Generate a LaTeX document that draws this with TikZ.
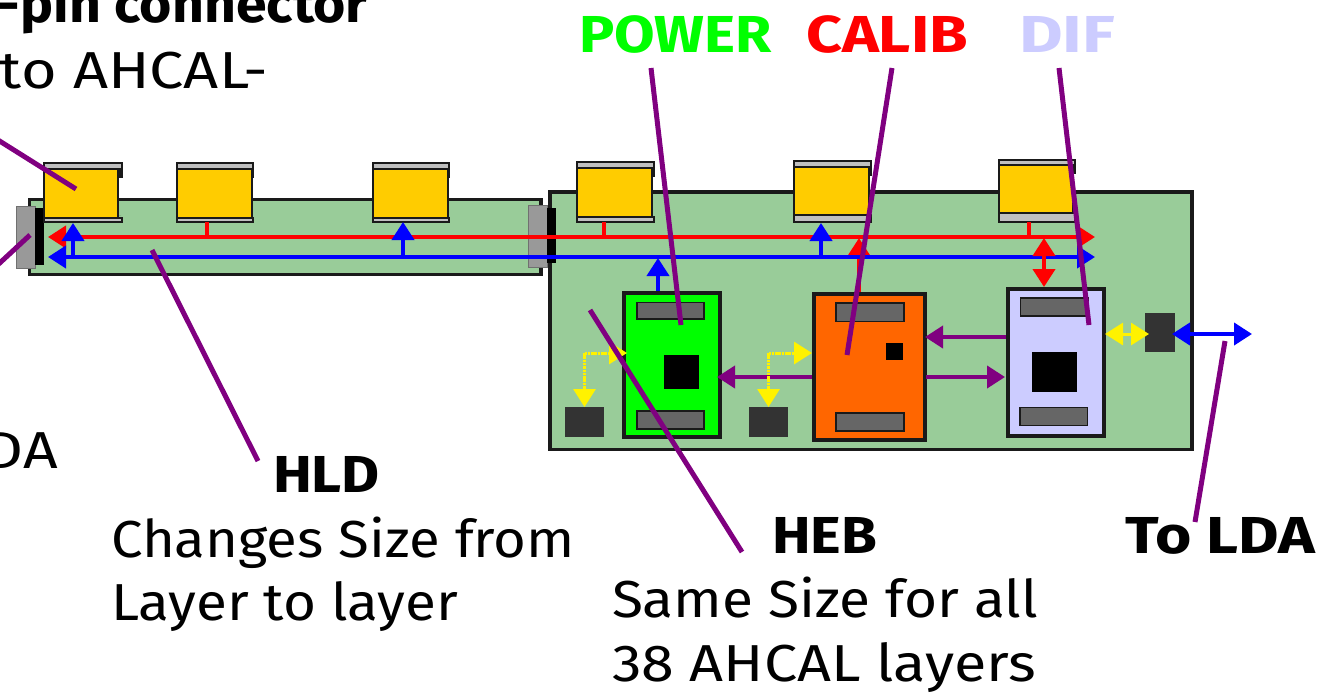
\documentclass[tikz,border=0pt]{standalone}
\usepackage{graphicx}
\usepackage{fontspec}
\setmainfont{Fira Sans}
\usetikzlibrary{arrows.meta}
\definecolor{board}{HTML}{99CC99}
\definecolor{edge}{HTML}{1A1A1A}
\definecolor{amber}{HTML}{FFCC00}
\definecolor{strip}{HTML}{C0C0C0}
\definecolor{endc}{HTML}{999999}
\definecolor{slot}{HTML}{666666}
\definecolor{dark}{HTML}{333333}
\definecolor{lime}{HTML}{00FF00}
\definecolor{orng}{HTML}{FF6600}
\definecolor{lav}{HTML}{CCCCFF}
\definecolor{purp}{HTML}{800080}
\tikzset{
  rectbox/.style={rectangle,inner sep=0pt,outer sep=0pt},
  boardbox/.style={rectbox,draw=edge,line width=3.5pt,fill=board},
  modbox/.style={rectbox,draw=edge,line width=4pt},
  slotbox/.style={rectbox,draw=edge,line width=1.5pt,fill=slot},
  chipbox/.style={rectbox,fill=black},
  darkbox/.style={rectbox,fill=dark},
  amberbox/.style={rectbox,draw=edge,line width=1.5pt,fill=amber},
  stripbox/.style={rectbox,draw=edge,line width=1.5pt,fill=strip},
  stubbox/.style={rectbox,fill=edge},
  redline/.style={draw=red,line width=4pt},
  blueline/.style={draw=blue,line width=4pt},
  purpline/.style={draw=purp,line width=4pt},
  yelline/.style={draw=yellow,line width=3pt,dash pattern=on 2.5pt off 0.8pt},
  callout/.style={draw=purp,line width=5pt},
  lbl/.style={anchor=base west,inner sep=0pt,outer sep=0pt,font=\fontsize{52}{52}\selectfont},
  blbl/.style={lbl,font=\fontsize{52}{52}\selectfont\bfseries},
  tip/.style={-{Triangle[length=18pt,width=22pt]}},
  tips/.style={{Triangle[length=18pt,width=22pt]}-{Triangle[length=18pt,width=22pt]}},
  ytip/.style={-{Triangle[length=18pt,width=22pt,fill=yellow]}},
}
\newcommand{\bx}[6]{\node[#6,minimum width={(#4-#2)*1pt},minimum height={(#5-#3)*1pt}] (#1) at ({(#2+#4)/2},{(#3+#5)/2}) {};}
\newcommand{\conn}[8]{%
  \bx{#1ts}{#2+1}{#5}{#4}{#6+9}{stubbox}
  \bx{#1bs}{#2-1}{#7-9}{#4}{#8}{stubbox}
  \bx{#1t}{#2+1}{#5}{#4-1}{#6}{stripbox}
  \bx{#1b}{#2+1}{#7}{#4-1}{#8}{stripbox}
  \bx{#1}{#2}{#6}{#3}{#7}{amberbox}
}
\newcommand{\wtext}[5]{\node[#1] (#2) at #3 {\resizebox{#4pt}{\height}{#5}};}
\begin{document}
\begin{tikzpicture}[x=1pt,y=-1pt]
\useasboundingbox (0,0) rectangle (1326,694);
\clip (0,0) rectangle (1326,694);
\fill[white] (0,0) rectangle (1326,694);
% boards
\bx{hld}{29.5}{199.5}{541}{274.5}{boardbox}
\bx{heb}{550}{192}{1192}{449.5}{boardbox}
% end connectors
\bx{endla}{16}{206}{35}{268}{rectbox,draw=dark!70,line width=.8pt,fill=endc}
\bx{endlb}{35}{208}{44}{265}{chipbox}
\bx{endra}{528}{205}{547}{267}{rectbox,draw=dark!70,line width=.8pt,fill=endc}
\bx{endrb}{547}{208}{556}{263}{chipbox}
% board connectors
\conn{ca}{44}{118}{122}{163}{169}{218}{222}
\conn{cb}{177}{252}{253}{163}{169}{218}{222}
\conn{cc}{373}{448}{449}{163}{169}{218}{222}
\conn{cd}{577}{652}{654}{162}{168}{217}{222}
\conn{ce}{794}{869}{871}{161}{167}{215}{222}
\conn{cf}{999}{1073}{1075}{160}{165}{213}{222}
% modules
\bx{pow}{624}{293}{719.5}{437}{modbox,fill=lime}
\bx{powa}{637}{302.5}{704}{319}{slotbox}
\bx{powb}{637}{411}{704}{429}{slotbox}
\bx{powc}{664}{355}{699}{389}{chipbox}
\bx{cal}{814}{294}{924.5}{440}{modbox,fill=orng}
\bx{cala}{836}{303}{904}{321.5}{slotbox}
\bx{calb}{836}{413}{904}{431}{slotbox}
\bx{calc}{886}{343}{903}{360}{chipbox}
\bx{dif}{1008}{289}{1103.5}{435.5}{modbox,fill=lav}
\bx{difa}{1020.5}{298}{1088}{316}{slotbox}
\bx{difb}{1020}{407.5}{1087.5}{425.5}{slotbox}
\bx{difc}{1032}{352}{1077}{392}{chipbox}
\bx{sqa}{565}{407}{604}{437}{darkbox}
\bx{sqb}{749}{407}{788}{437}{darkbox}
\bx{sqc}{1145}{313}{1175}{352}{darkbox}
% bus end points
\coordinate (rl) at (48,237); \coordinate (rr) at (1095,237);
\coordinate (bl) at (48,257); \coordinate (br) at (1095,257);
% stubs to bus
\coordinate (rb) at (207,237); \coordinate (rd) at (604,237); \coordinate (rf) at (1029,237);
\draw[redline] (rb) -- (rb |- cbb.south);
\draw[redline] (rd) -- (rd |- cdb.south);
\draw[redline] (rf) -- (rf |- cfb.south);
\draw[red,line width=4pt,tip] (859,292) -- (859,238);
% buses
\draw[redline,tips] (rl) -- (rr);
\draw[blueline,tips] (bl) -- (br);
\draw[blue,line width=4pt,tip] (73,257) -- (73,223);
\draw[blue,line width=4pt,tip] (403,257) -- (403,222);
\draw[blue,line width=4pt,tip] (821,257) -- (821,223);
\draw[blue,line width=4pt,tip] (658,291) -- (658,258);
\draw[red,line width=4pt,tips] (1044,238) -- (1044,287);
% purple links
\coordinate (pa) at (717,377); \coordinate (pb) at (812,377);
\draw[purpline,tip] (pb) -- (pa);
\coordinate (pc) at (1006,337); \coordinate (pd) at (925,337);
\draw[purpline,tip] (pc) -- (pd);
\coordinate (pe) at (926,377); \coordinate (pf) at (1005,377);
\draw[purpline,tip] (pe) -- (pf);
% yellow links
\coordinate (ya) at (584.5,353); \coordinate (yb) at (768.5,353);
\draw[yelline,ytip] (ya) -- (627,353);
\draw[yelline,ytip] (ya) -- (sqa.north);
\draw[yelline,ytip] (yb) -- (812,353);
\draw[yelline,ytip] (yb) -- (sqb.north);
\draw[yellow,line width=3pt,tips] (1105,334) -- (1149,334);
\draw[blue,line width=4pt,tips] (1172,334) -- (1252,334);
% labels
\wtext{blbl}{t1}{(-2,22)}{370}{-pin connector}
\wtext{lbl}{t2}{(0,88)}{268}{to AHCAL-}
\wtext{lbl}{t3}{(-15,468)}{73}{DA}
\wtext{blbl,text=lime}{tpow}{(579,52)}{193}{POWER}
\wtext{blbl,text=red}{tcal}{(806,52)}{162}{CALIB}
\wtext{blbl,text=lav}{tdif}{(1019,52)}{96}{DIF}
\wtext{blbl}{thld}{(273,492)}{107}{HLD}
\wtext{lbl}{th1}{(111,557)}{464}{Changes Size from}
\wtext{lbl}{th2}{(111,620)}{347}{Layer to layer}
\wtext{blbl}{theb}{(772,553)}{105}{HEB}
\wtext{lbl}{te1}{(612,617)}{426}{Same Size for all}
\wtext{lbl}{te2}{(612,681)}{424}{38 AHCAL layers}
\wtext{blbl}{tlda}{(1125,553)}{190}{To LDA}
% callout lines
\coordinate (la) at (-10,135); \coordinate (lb) at (76,189);
\coordinate (lc) at (-10,272); \coordinate (ld) at (30,235);
\draw[callout] (la) -- (lb);
\draw[callout] (lc) -- (ld);
\draw[callout] (152,250) -- (258,461);
\draw[callout] (651,68) -- (681,325);
\draw[callout] (892,68) -- (847,355);
\draw[callout] (1059,68) -- (1089,325);
\draw[callout] (590,310) -- (742,552);
\draw[callout] (1225,341) -- (1195,522);
\end{tikzpicture}
\end{document}
